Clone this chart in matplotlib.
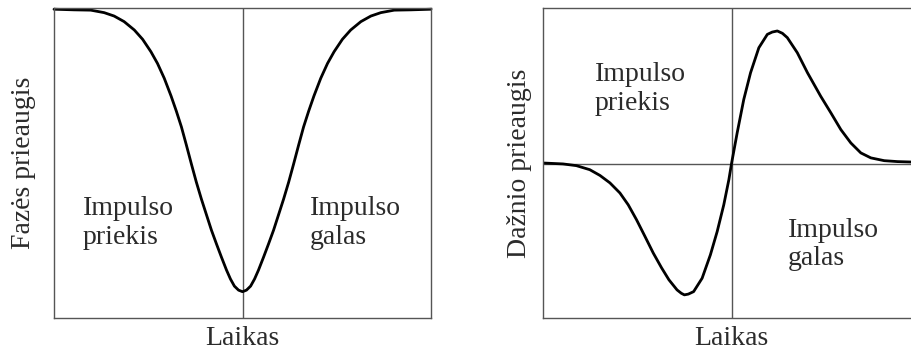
import matplotlib.pyplot as plt

plt.rcParams['font.family'] = ['Liberation Serif', 'DejaVu Serif']

# phase shift vs time (pulse centred at t = 0)
t_phase = [-1.0, -0.894, -0.805, -0.734, -0.681, -0.628, -0.574, -0.530, -0.486,
           -0.451, -0.415, -0.379, -0.351, -0.324, -0.298, -0.271, -0.245,
           -0.218, -0.191, -0.165, -0.138, -0.112, -0.085, -0.064, -0.043,
           -0.021, 0.0,
           0.021, 0.043, 0.064, 0.085, 0.112, 0.138, 0.165, 0.191, 0.218,
           0.245, 0.271, 0.298, 0.324, 0.351, 0.379, 0.415, 0.451, 0.486,
           0.530, 0.574, 0.628, 0.681, 0.734, 0.805, 0.894, 1.0]
phase = [0.997, 0.995, 0.994, 0.986, 0.975, 0.957, 0.930, 0.900, 0.860,
         0.822, 0.774, 0.717, 0.668, 0.617, 0.559, 0.497, 0.439,
         0.384, 0.333, 0.284, 0.239, 0.197, 0.155, 0.126, 0.103,
         0.090, 0.085,
         0.090, 0.103, 0.126, 0.155, 0.197, 0.239, 0.284, 0.333, 0.384,
         0.439, 0.497, 0.559, 0.617, 0.668, 0.717, 0.774, 0.822, 0.860,
         0.900, 0.930, 0.957, 0.975, 0.986, 0.994, 0.995, 0.997]

# frequency shift vs time
t_freq = [-1.0, -0.894, -0.823, -0.752, -0.698, -0.645, -0.592, -0.548, -0.504,
          -0.459, -0.415, -0.371, -0.332, -0.289, -0.266, -0.250, -0.229,
          -0.201, -0.156, -0.112, -0.076, -0.041, -0.014, 0.0,
          0.030, 0.065, 0.101, 0.145, 0.190, 0.216, 0.243, 0.270, 0.296,
          0.349, 0.403, 0.473, 0.527, 0.580, 0.633, 0.686, 0.739, 0.810,
          0.881, 0.963, 1.0]
freq = [0.004, -0.002, -0.013, -0.039, -0.076, -0.124, -0.189, -0.265, -0.361,
        -0.469, -0.576, -0.671, -0.748, -0.813, -0.835, -0.845, -0.840,
        -0.824, -0.738, -0.587, -0.437, -0.265, -0.103, 0.0,
        0.198, 0.413, 0.585, 0.746, 0.832, 0.847, 0.854, 0.839, 0.811,
        0.714, 0.585, 0.434, 0.327, 0.219, 0.133, 0.069, 0.037, 0.019,
        0.013, 0.010, 0.006]

xlabel = 'Laikas'
ylabels = ['Fazės prieaugis', 'Dažnio prieaugis']
head = 'Impulso\npriekis'
tail = 'Impulso\ngalas'

txt_col = '#2b2b2b'
grid_col = '#555555'
fs = 20

fig = plt.figure(figsize=(9.12, 3.56), dpi=100)
ax1 = fig.add_axes([0.0592, 0.1067, 0.4134, 0.870])
ax2 = fig.add_axes([0.5954, 0.1067, 0.4134, 0.870])

for ax in (ax1, ax2):
    ax.set_xticks([])
    ax.set_yticks([])
    for s in ax.spines.values():
        s.set_color(grid_col)
        s.set_linewidth(1.0)
    ax.axvline(0, color=grid_col, lw=1.0)
    ax.set_xlim(-1, 1)
    ax.set_xlabel(xlabel, fontsize=fs, color=txt_col, labelpad=6)

ax1.set_ylim(0, 1)
ax1.plot(t_phase, phase, color='black', lw=2.0, clip_on=False,
         solid_capstyle='round', solid_joinstyle='round')
ax1.set_ylabel(ylabels[0], fontsize=fs, color=txt_col, labelpad=13)
ax1.text(0.077, 0.393, head, transform=ax1.transAxes, fontsize=fs,
         color=txt_col, va='top', ha='left', linespacing=1.2)
ax1.text(0.679, 0.393, tail, transform=ax1.transAxes, fontsize=fs,
         color=txt_col, va='top', ha='left', linespacing=1.2)

ax2.set_ylim(-0.994, 1.0)
ax2.axhline(0, color=grid_col, lw=1.0)
ax2.plot(t_freq, freq, color='black', lw=2.0,
         solid_capstyle='round', solid_joinstyle='round')
ax2.set_ylabel(ylabels[1], fontsize=fs, color=txt_col, labelpad=8)
ax2.text(0.138, 0.827, head, transform=ax2.transAxes, fontsize=fs,
         color=txt_col, va='top', ha='left', linespacing=1.2)
ax2.text(0.649, 0.324, tail, transform=ax2.transAxes, fontsize=fs,
         color=txt_col, va='top', ha='left', linespacing=1.2)

fig.savefig('out.png', dpi=100)
